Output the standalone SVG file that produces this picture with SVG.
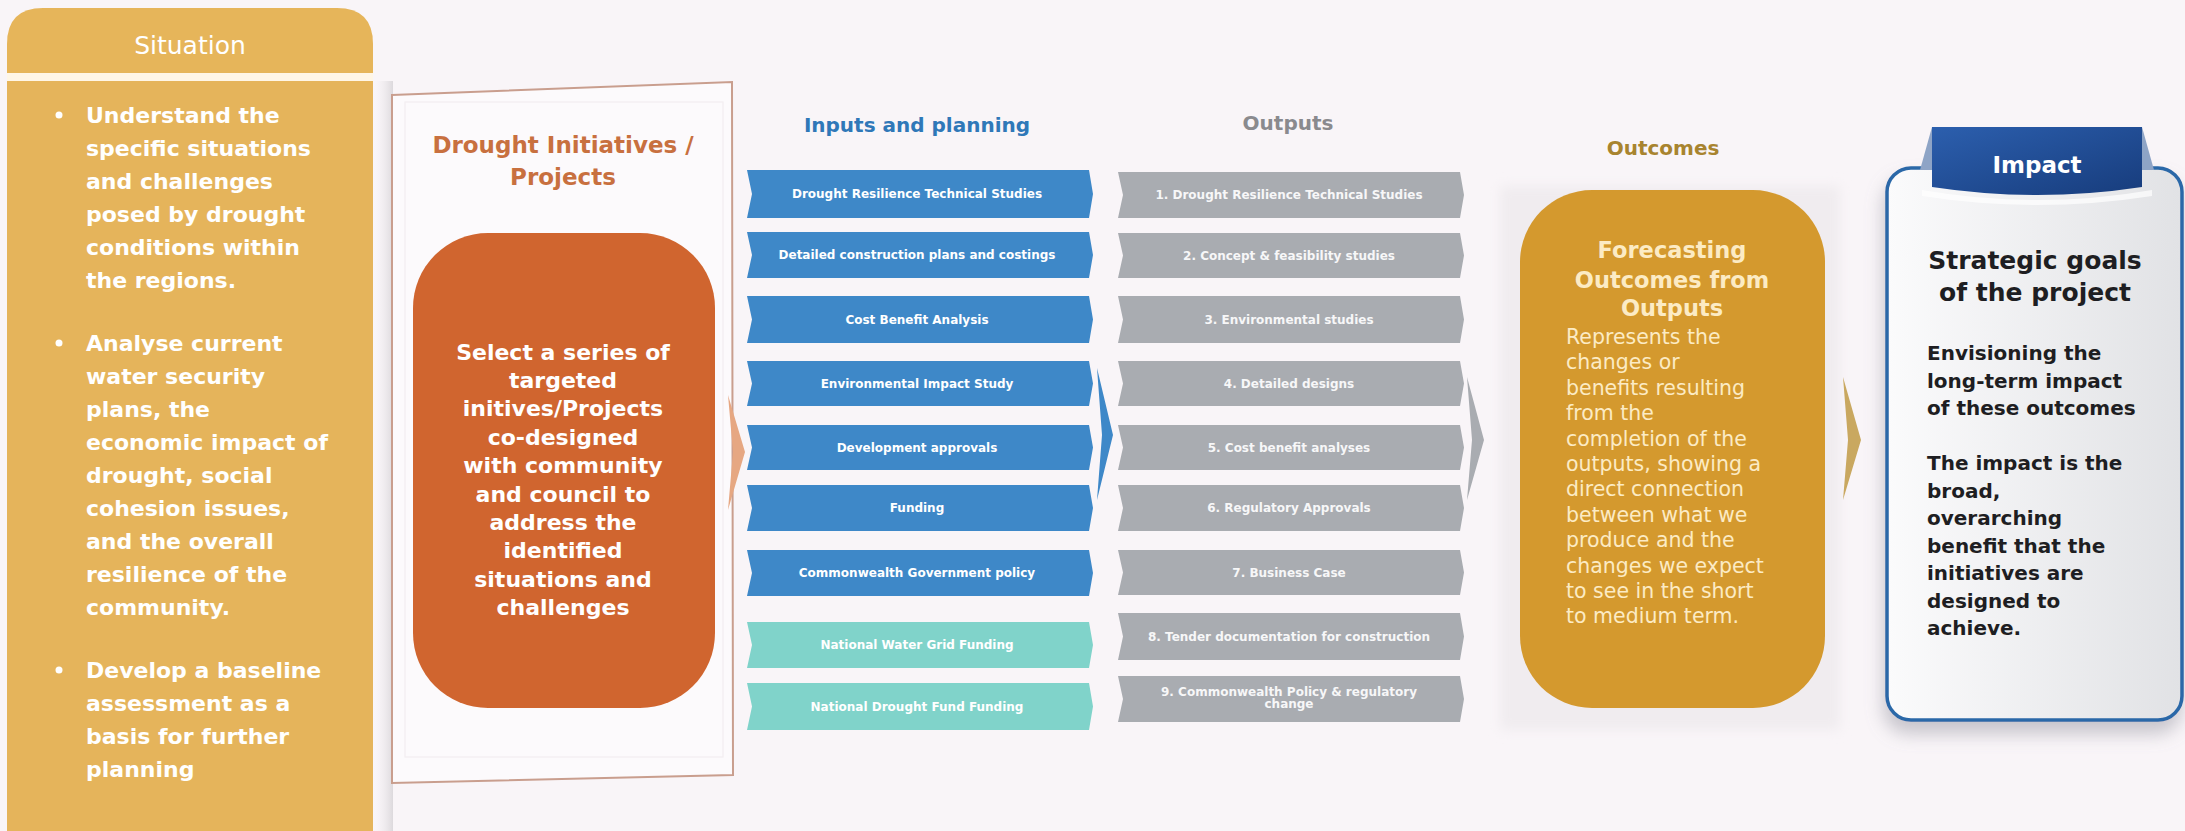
<svg xmlns="http://www.w3.org/2000/svg" width="2185" height="831" viewBox="0 0 2185 831">
  <defs>
    <style>
      .b { font-family: "DejaVu Sans", "Liberation Sans", sans-serif; font-weight: bold; }
      .r { font-family: "DejaVu Sans", "Liberation Sans", sans-serif; font-weight: normal; }
      .sit { fill: #FFFFFF; font-size: 22px; }
      .prj { fill: #FFFFFF; font-size: 22px; text-anchor: middle; }
      .bar-t { fill: #FFFFFF; font-size: 12px; text-anchor: middle; }
      .out-t { fill: #F7F7F8; font-size: 12px; text-anchor: middle; }
      .fc-t { fill: #FCEBC4; font-size: 22.5px; text-anchor: middle; }
      .fc-b { fill: #FCEBC4; font-size: 20.5px; }
      .imp-b { fill: #1E1E22; font-size: 20px; }
      .blue { fill: #3E88C8; }
      .teal { fill: #80D3CA; }
      .grey { fill: #A9ACB1; }
    </style>
    <linearGradient id="cardFill" x1="0" y1="0" x2="1" y2="0">
      <stop offset="0" stop-color="#FBFBFC"/>
      <stop offset="1" stop-color="#E1E2E5"/>
    </linearGradient>
    <linearGradient id="tabFill" x1="0" y1="0" x2="1" y2="1">
      <stop offset="0" stop-color="#2C5FAE"/>
      <stop offset="1" stop-color="#173C7C"/>
    </linearGradient>
    <linearGradient id="frameShade" x1="0" y1="0" x2="1" y2="0">
      <stop offset="0" stop-color="#F7F3F6" stop-opacity="0"/>
      <stop offset="1" stop-color="#C9C6CA" stop-opacity="0.6"/>
    </linearGradient>
    <filter id="cardShadow" x="-10%" y="-10%" width="130%" height="130%">
      <feDropShadow dx="-2" dy="12" stdDeviation="9" flood-color="#8A8A95" flood-opacity="0.45"/>
    </filter>
    <filter id="soft" x="-10%" y="-10%" width="120%" height="120%">
      <feGaussianBlur stdDeviation="6"/>
    </filter>
  </defs>

  <!-- page -->
  <rect x="0" y="0" width="2185" height="831" fill="#F9F5F8"/>

  <!-- Situation column -->
  <g id="situation">
    <path d="M7,73 V44 Q7,8 43,8 H337 Q373,8 373,44 V73 Z" fill="#E6B55A"/>
    <rect x="7" y="73" width="366" height="8" fill="#FFF6E6"/>
    <rect x="7" y="81" width="366" height="760" fill="#E5B45B"/>
    <rect x="373" y="81" width="20" height="760" fill="url(#frameShade)"/>
    <text class="r" x="190" y="54" font-size="25" fill="#FFFFFF" text-anchor="middle">Situation</text>
    <g class="b sit">
      <circle cx="59" cy="115" r="3.5" fill="#FFFFFF"/>
      <text x="86" y="122.5">Understand the</text>
      <text x="86" y="155.5">specific situations</text>
      <text x="86" y="188.5">and challenges</text>
      <text x="86" y="221.5">posed by drought</text>
      <text x="86" y="254.5">conditions within</text>
      <text x="86" y="287.5">the regions.</text>
      <circle cx="59" cy="343" r="3.5" fill="#FFFFFF"/>
      <text x="86" y="350.5">Analyse current</text>
      <text x="86" y="383.5">water security</text>
      <text x="86" y="416.5">plans, the</text>
      <text x="86" y="449.5">economic impact of</text>
      <text x="86" y="482.5">drought, social</text>
      <text x="86" y="515.5">cohesion issues,</text>
      <text x="86" y="548.5">and the overall</text>
      <text x="86" y="581.5">resilience of the</text>
      <text x="86" y="614.5">community.</text>
      <circle cx="59" cy="670" r="3.5" fill="#FFFFFF"/>
      <text x="86" y="677.5">Develop a baseline</text>
      <text x="86" y="710.5">assessment as a</text>
      <text x="86" y="743.5">basis for further</text>
      <text x="86" y="776.5">planning</text>
    </g>
  </g>

  <!-- Drought initiatives / projects -->
  <g id="projects">
    <polygon points="392,95 732,82 733,775 392,783" fill="#FCFAFC" stroke="#C99E8E" stroke-width="2"/>
    <rect x="405" y="102" width="318" height="655" fill="none" stroke="#F2EDF0" stroke-width="1.2"/>
    <text class="b" x="563" y="153" font-size="23" fill="#C8703F" text-anchor="middle">Drought Initiatives /</text>
    <text class="b" x="563" y="185" font-size="23" fill="#C8703F" text-anchor="middle">Projects</text>
    <rect x="413" y="233" width="302" height="475" rx="75" ry="75" fill="#D0652F"/>
    <g class="b prj">
      <text x="563" y="359.5">Select a series of</text>
      <text x="563" y="387.9">targeted</text>
      <text x="563" y="416.3">initives/Projects</text>
      <text x="563" y="444.7">co-designed</text>
      <text x="563" y="473.1">with community</text>
      <text x="563" y="501.5">and council to</text>
      <text x="563" y="529.9">address the</text>
      <text x="563" y="558.3">identified</text>
      <text x="563" y="586.7">situations and</text>
      <text x="563" y="615.1">challenges</text>
    </g>
  </g>

  <!-- Inputs and planning -->
  <g id="inputs">
    <text class="b" x="917" y="132" font-size="20" fill="#2F78B8" text-anchor="middle">Inputs and planning</text>
    <path class="blue" d="M747,170 H1089 l4,24 l-4,24 H747 l5,-24 Z"/>
    <path class="blue" d="M747,232 H1089 l4,23 l-4,23 H747 l5,-23 Z"/>
    <path class="blue" d="M747,296 H1089 l4,23.5 l-4,23.5 H747 l5,-23.5 Z"/>
    <path class="blue" d="M747,361 H1089 l4,22.5 l-4,22.5 H747 l5,-22.5 Z"/>
    <path class="blue" d="M747,425 H1089 l4,22.5 l-4,22.5 H747 l5,-22.5 Z"/>
    <path class="blue" d="M747,485 H1089 l4,23 l-4,23 H747 l5,-23 Z"/>
    <path class="blue" d="M747,550 H1089 l4,23 l-4,23 H747 l5,-23 Z"/>
    <path class="teal" d="M747,622 H1089 l4,23 l-4,23 H747 l5,-23 Z"/>
    <path class="teal" d="M747,683 H1089 l4,23.5 l-4,23.5 H747 l5,-23.5 Z"/>
    <g class="b bar-t">
      <text x="917" y="198">Drought Resilience Technical Studies</text>
      <text x="917" y="259">Detailed construction plans and costings</text>
      <text x="917" y="323.5">Cost Benefit Analysis</text>
      <text x="917" y="387.5">Environmental Impact Study</text>
      <text x="917" y="451.5">Development approvals</text>
      <text x="917" y="512">Funding</text>
      <text x="917" y="577">Commonwealth Government policy</text>
      <text x="917" y="649">National Water Grid Funding</text>
      <text x="917" y="710.5">National Drought Fund Funding</text>
    </g>
  </g>

  <!-- Outputs -->
  <g id="outputs">
    <text class="b" x="1288" y="130" font-size="20" fill="#8A8A8E" text-anchor="middle">Outputs</text>
    <path class="grey" d="M1118,172 H1460 l4,23 l-4,23 H1118 l5,-23 Z"/>
    <path class="grey" d="M1118,233 H1460 l4,22.5 l-4,22.5 H1118 l5,-22.5 Z"/>
    <path class="grey" d="M1118,296 H1460 l4,23.5 l-4,23.5 H1118 l5,-23.5 Z"/>
    <path class="grey" d="M1118,361 H1460 l4,22.5 l-4,22.5 H1118 l5,-22.5 Z"/>
    <path class="grey" d="M1118,425 H1460 l4,22.5 l-4,22.5 H1118 l5,-22.5 Z"/>
    <path class="grey" d="M1118,485 H1460 l4,23 l-4,23 H1118 l5,-23 Z"/>
    <path class="grey" d="M1118,550 H1460 l4,22.5 l-4,22.5 H1118 l5,-22.5 Z"/>
    <path class="grey" d="M1118,613 H1460 l4,23.5 l-4,23.5 H1118 l5,-23.5 Z"/>
    <path class="grey" d="M1118,676 H1460 l4,23 l-4,23 H1118 l5,-23 Z"/>
    <g class="b out-t">
      <text x="1289" y="199">1. Drought Resilience Technical Studies</text>
      <text x="1289" y="259.5">2. Concept &amp; feasibility studies</text>
      <text x="1289" y="323.5">3. Environmental studies</text>
      <text x="1289" y="387.5">4. Detailed designs</text>
      <text x="1289" y="451.5">5. Cost benefit analyses</text>
      <text x="1289" y="512">6. Regulatory Approvals</text>
      <text x="1289" y="576.5">7. Business Case</text>
      <text x="1289" y="641">8. Tender documentation for construction</text>
      <text x="1289" y="696">9. Commonwealth Policy &amp; regulatory</text>
      <text x="1289" y="708">change</text>
    </g>
  </g>

  <!-- Outcomes -->
  <g id="outcomes">
    <text class="b" x="1663" y="155" font-size="20" fill="#A8842F" text-anchor="middle">Outcomes</text>
    <rect x="1500" y="186" width="340" height="544" fill="#F0ECEF" filter="url(#soft)"/>
    <rect x="1520" y="190" width="305" height="518" rx="72" ry="72" fill="#D4992E"/>
    <g class="b fc-t">
      <text x="1672" y="258">Forecasting</text>
      <text x="1672" y="287.5">Outcomes from</text>
      <text x="1672" y="316">Outputs</text>
    </g>
    <g class="r fc-b">
      <text x="1566" y="344">Represents the</text>
      <text x="1566" y="369.4">changes or</text>
      <text x="1566" y="394.8">benefits resulting</text>
      <text x="1566" y="420.2">from the</text>
      <text x="1566" y="445.6">completion of the</text>
      <text x="1566" y="471">outputs, showing a</text>
      <text x="1566" y="496.4">direct connection</text>
      <text x="1566" y="521.8">between what we</text>
      <text x="1566" y="547.2">produce and the</text>
      <text x="1566" y="572.6">changes we expect</text>
      <text x="1566" y="598">to see in the short</text>
      <text x="1566" y="623.4">to medium term.</text>
    </g>
  </g>

  <!-- Impact -->
  <g id="impact">
    <rect x="1887" y="168" width="295" height="552" rx="24" ry="24" fill="url(#cardFill)" stroke="#2B68A8" stroke-width="3.5" filter="url(#cardShadow)"/>
    <polygon points="1920,170 1932,127 1932,170" fill="#8EA4C6"/>
    <polygon points="2154,170 2142,127 2142,170" fill="#8EA4C6"/>
    <path d="M1932,127 H2142 V187 Q2037,203 1932,187 Z" fill="url(#tabFill)"/>
    <path d="M1922,190 Q2037,210 2152,190 L2152,196 Q2037,214 1922,196 Z" fill="#FFFFFF" opacity="0.7"/>
    <text class="b" x="2037" y="173" font-size="23" fill="#FFFFFF" text-anchor="middle">Impact</text>
    <text class="b" x="2035" y="268.5" font-size="25" fill="#1E1E22" text-anchor="middle">Strategic goals</text>
    <text class="b" x="2035" y="300.5" font-size="25" fill="#1E1E22" text-anchor="middle">of the project</text>
    <g class="b imp-b">
      <text x="1927" y="360">Envisioning the</text>
      <text x="1927" y="387.5">long-term impact</text>
      <text x="1927" y="415">of these outcomes</text>
      <text x="1927" y="470">The impact is the</text>
      <text x="1927" y="497.5">broad,</text>
      <text x="1927" y="525">overarching</text>
      <text x="1927" y="552.5">benefit that the</text>
      <text x="1927" y="580">initiatives are</text>
      <text x="1927" y="607.5">designed to</text>
      <text x="1927" y="635">achieve.</text>
    </g>
  </g>

  <!-- connectors: chevrons between stages -->
  <g id="connectors">
    <polygon points="728,395 745,452 728,510 733,452" fill="#E6A782"/>
    <polygon points="1097,368 1113,435 1097,500 1102,435" fill="#3E88C8"/>
    <polygon points="1467,377 1484,440 1467,500 1472,440" fill="#A9ACB1"/>
    <polygon points="1843,377 1861,440 1843,500 1848,440" fill="#C9A860"/>
  </g>
</svg>
